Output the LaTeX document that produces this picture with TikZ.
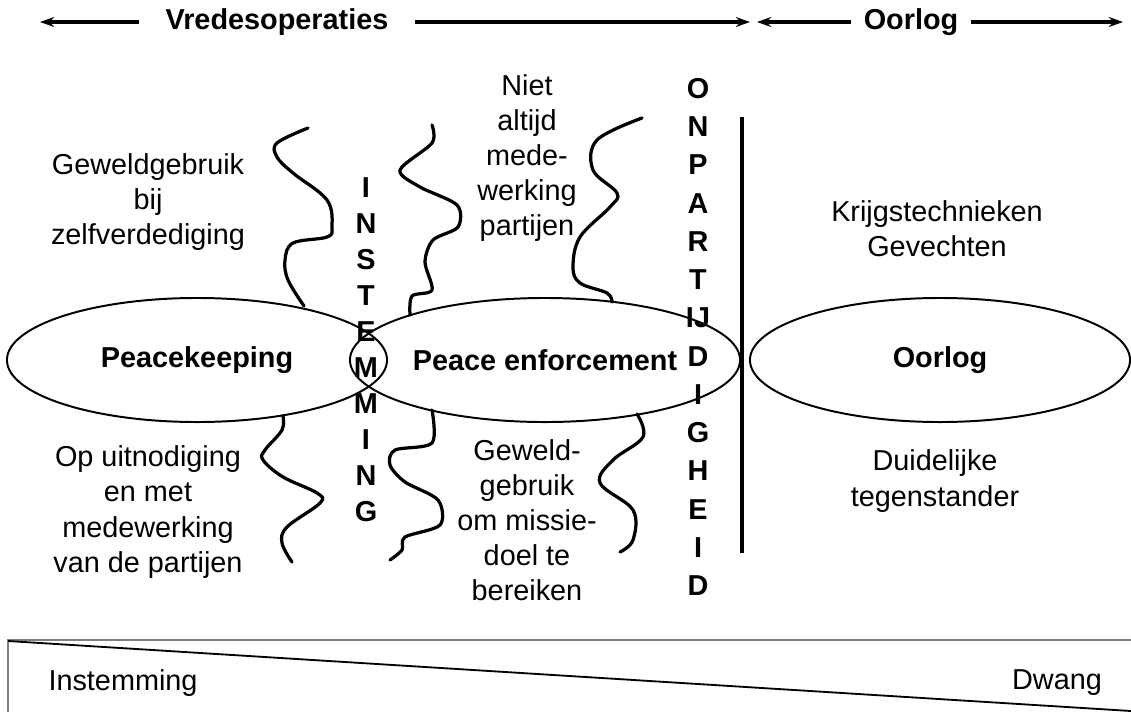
\documentclass[tikz,border=0pt]{standalone}
\usepackage{fontspec}
\setmainfont{Liberation Sans}
\usetikzlibrary{arrows.meta, shapes.geometric}

\begin{document}
\begin{tikzpicture}[
    x=0.025cm, y=-0.025cm,
    >={Stealth[length=10pt,width=7pt]},
    txt/.style={align=center, font=\fontsize{20.5}{25}\selectfont},
    bold/.style={font=\bfseries\fontsize{20.5}{25}\selectfont},
    letters/.style={align=center, inner sep=0pt, font=\bfseries\fontsize{20.5}{#1}\selectfont},
    blob/.style={draw, ellipse, line width=1.4pt, inner sep=0pt, minimum height=3.1cm, bold},
    wave/.style={line width=2.3pt, line cap=round, line join=round},
    span/.style={line width=2.5pt},
]
    \useasboundingbox (0,0) rectangle (1131,712);

    \node[bold, inner xsep=0.65cm] (vrede) at (277,22) {Vredesoperaties};
    \node[bold, inner xsep=0.3cm]  (war)   at (911,22) {Oorlog};
    \coordinate (vL) at (40,22);
    \coordinate (vR) at (750,22);
    \coordinate (wL) at (757,22);
    \coordinate (wR) at (1123,22);

    \path[span]
        (vrede) edge[->] (vL)
        (vrede) edge[->] (vR)
        (war)   edge[->] (wL)
        (war)   edge[->] (wR)
    ;

    \node[blob, minimum width=9.5cm]  (pk) at (197,360) {Peacekeeping};
    \node[blob, minimum width=9.75cm] (pe) at (545,360) {Peace enforcement};
    \node[blob, minimum width=9.5cm]  (ol) at (940,360) {Oorlog};

    \draw[line width=2.4pt] (742,117) -- (742,553);

    \node[letters=25.6pt] (inst) at (366,350) {I\\N\\S\\T\\E\\M\\M\\I\\N\\G};
    \node[letters=27.2pt] (onp)  at (698,337) {O\\N\\P\\A\\R\\T\\IJ\\D\\I\\G\\H\\E\\I\\D};

    \node[txt] (selfdef) at (148,202) {Geweldgebruik\\bij\\zelfverdediging};
    \node[txt] (invite)  at (148,512) {Op uitnodiging\\en met\\medewerking\\van de partijen};
    \node[txt] (coop)    at (527,158) {Niet\\altijd\\mede-\\werking\\partijen};
    \node[txt] (force)   at (527,520) {Geweld-\\gebruik\\om missie-\\doel te\\bereiken};
    \node[txt] (tech)    at (937,229) {Krijgstechnieken\\Gevechten};
    \node[txt] (enemy)   at (935,481) {Duidelijke\\tegenstander};

    % wavy borders
    \draw[wave] plot[smooth, tension=0.6] coordinates {(308,128) (277,143) (277,157) (293,173) (327,200)
        (332,227) (327,237) (293,243) (285,260) (288,280) (304,306)};
    \draw[wave] plot[smooth, tension=0.6] coordinates {(283,416) (282,430) (265,450) (263,460) (283,477)
        (317,493) (320,503) (287,527) (282,543) (292,562)};
    \draw[wave] plot[smooth, tension=0.5] coordinates {(432,125) (432,143) (400,170) (420,187) (457,205)
        (458,227) (433,240) (425,262) (432,290) (412,296) (410,315)};
    \draw[wave] plot[smooth, tension=0.5] coordinates {(432,410) (432,443) (395,450) (390,465) (405,482)
        (438,500) (440,525) (405,537) (402,550) (390,560)};
    \draw[wave] plot[smooth, tension=0.6] coordinates {(642,118) (597,140) (593,170) (617,193) (610,207)
        (580,237) (573,267) (580,283) (607,293) (612,302)};
    \draw[wave] plot[smooth, tension=0.6] coordinates {(637,414) (643,437) (613,460) (600,483) (633,510)
        (633,540) (620,552)};

    \draw[gray, line width=1.5pt] (8,712) -- (8,640) -- (1131,640);
    \draw[line width=1.3pt] (8,641) -- (1131,711);
    \node[txt] (yes)   at (123,683) {Instemming};
    \node[txt] (dwang) at (1057,683) {Dwang};
\end{tikzpicture}
\end{document}
